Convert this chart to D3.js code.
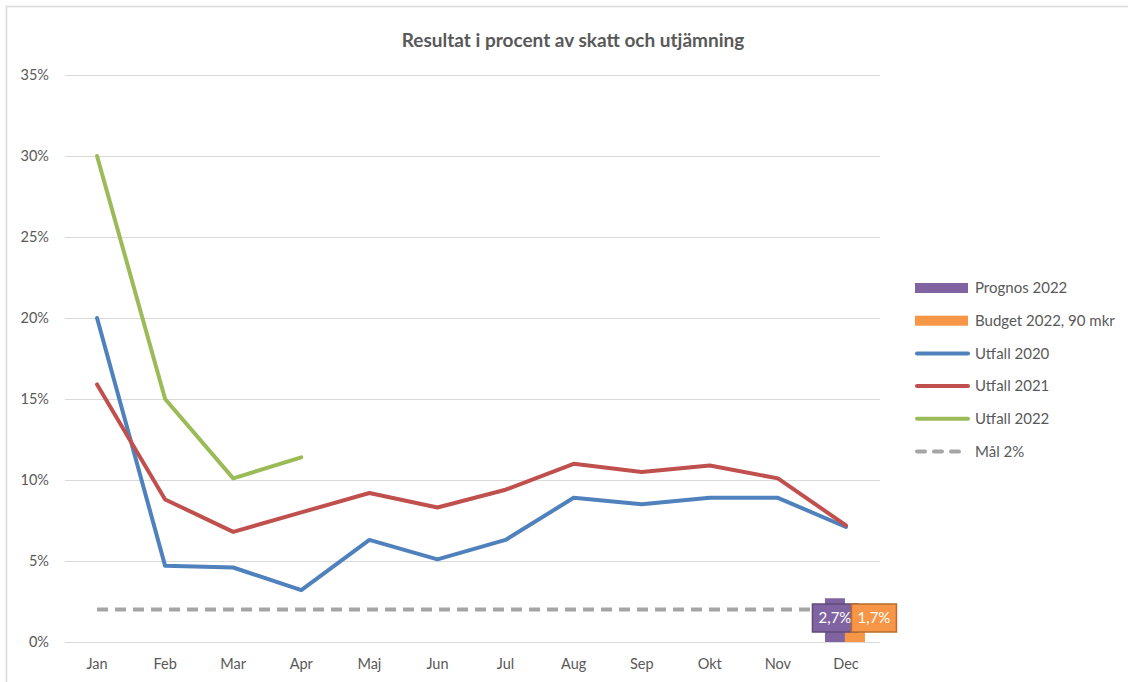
<!DOCTYPE html>
<html>
<head>
<meta charset="utf-8">
<script src="https://cdn.jsdelivr.net/npm/d3@7"></script>
<style>
body{margin:0;background:#fff;}
text{font-family:Lato,"Open Sans",sans-serif;}
</style>
</head>
<body>
<div id="chart"></div>
<script>
var months = ["Jan","Feb","Mar","Apr","Maj","Jun","Jul","Aug","Sep","Okt","Nov","Dec"];
var utfall2020 = [20,4.7,4.6,3.2,6.3,5.1,6.3,8.9,8.5,8.9,8.9,7.1];
var utfall2021 = [15.9,8.8,6.8,8.0,9.2,8.3,9.4,11.0,10.5,10.9,10.1,7.2];
var utfall2022 = [30,15,10.1,11.4];
var mal = [2,2,2,2,2,2,2,2,2,2,2,2];
var barNames = ["Prognos 2022","Budget 2022, 90 mkr"];
var barValues = [2.7,1.7];
var barLabels = ["2,7%","1,7%"];
var yTicks = [0,5,10,15,20,25,30,35];

var W = 1128, H = 682;
var margin = {l:63,r:248,t:75,b:40};

var svg = d3.select("#chart").append("svg")
	.attr("width",W).attr("height",H);

// chart frame
svg.append("path")
	.attr("d","M6.5,"+H+"V6.5H"+W)
	.style("fill","none").style("stroke","#d9d9d9").style("stroke-width","1.5px");

var X = d3.scaleBand().domain(months).range([margin.l, W-margin.r]);
var Y = d3.scaleLinear().domain([0,35]).range([H-margin.b, margin.t]);
var cx = function(m){ return X(m)+X.bandwidth()/2; };

svg.append("text")
	.attr("x",573).attr("y",47)
	.attr("text-anchor","middle")
	.style("font-size","19px").style("font-weight","bold").style("fill","#595959")
	.text("Resultat i procent av skatt och utjämning");

// gridlines
svg.selectAll(".grid").data(yTicks).enter().append("line")
	.attr("class","grid")
	.attr("x1",margin.l+2).attr("x2",W-margin.r)
	.attr("y1",function(d){return Math.round(Y(d))+0.5})
	.attr("y2",function(d){return Math.round(Y(d))+0.5})
	.style("stroke","#d9d9d9").style("stroke-width","1px");

var yAxis = svg.append("g")
	.attr("transform","translate("+(margin.l-11)+",0)")
	.call(d3.axisLeft(Y).tickValues(yTicks).tickSize(0).tickFormat(function(d){return d+"%"}));
yAxis.select(".domain").remove();
yAxis.selectAll("text").style("font-size","14.5px").style("fill","#595959").style("font-family","Lato,sans-serif");

var xAxis = svg.append("g")
	.attr("transform","translate(0,"+(H-margin.b+14)+")")
	.call(d3.axisBottom(X).tickSize(0));
xAxis.select(".domain").remove();
xAxis.selectAll("text").style("font-size","14.5px").style("fill","#595959").style("font-family","Lato,sans-serif");

// bars at Dec
var B = d3.scaleBand().domain(barNames).range([X("Dec")+X.bandwidth()/2-21, X("Dec")+X.bandwidth()/2+19]);
var barColors = ["#8064a2","#f79646"];
var barStroke = ["#5f4a7a","#b66d2f"];
svg.selectAll(".bar").data(barValues).enter().append("rect")
	.attr("class","bar")
	.attr("x",function(d,i){return B(barNames[i])})
	.attr("width",B.bandwidth())
	.attr("y",function(d){return Y(d)})
	.attr("height",function(d){return Y(0)-Y(d)})
	.style("fill",function(d,i){return barColors[i]});

var line = d3.line().x(function(d,i){return cx(months[i])}).y(function(d){return Y(d)});

svg.append("path").datum(mal).attr("d",line)
	.style("fill","none").style("stroke","#a5a5a5").style("stroke-width","4px")
	.style("stroke-dasharray","11,7");

var series = [
	{v:utfall2020, c:"#4f81bd"},
	{v:utfall2021, c:"#c0504d"},
	{v:utfall2022, c:"#9bbb59"}
];
svg.selectAll(".series").data(series).enter().append("path")
	.attr("class","series")
	.attr("d",function(d){return line(d.v)})
	.style("fill","none")
	.style("stroke",function(d){return d.c})
	.style("stroke-width","4px")
	.style("stroke-linejoin","round")
	.style("stroke-linecap","round");

// data labels
var lab = svg.selectAll(".lab").data(barValues).enter().append("g")
	.attr("class","lab")
	.attr("transform",function(d,i){
		var x = B(barNames[i]) + B.bandwidth()/2 + (i==0 ? 0 : 19);
		return "translate("+x+","+(Y(0)-24)+")";
	});
lab.append("rect")
	.attr("x",-22.5).attr("y",-14).attr("width",45).attr("height",28)
	.style("fill",function(d,i){return barColors[i]})
	.style("stroke",function(d,i){return barStroke[i]})
	.style("stroke-width","1.5px");
lab.append("text")
	.attr("text-anchor","middle").attr("dy","0.35em")
	.style("font-size","15px").style("fill","#fff")
	.text(function(d,i){return barLabels[i]});

// legend
var legend = [
	{n:"Prognos 2022", c:"#8064a2", type:"bar"},
	{n:"Budget 2022, 90 mkr", c:"#f79646", type:"bar"},
	{n:"Utfall 2020", c:"#4f81bd", type:"line"},
	{n:"Utfall 2021", c:"#c0504d", type:"line"},
	{n:"Utfall 2022", c:"#9bbb59", type:"line"},
	{n:"Mål 2%", c:"#a5a5a5", type:"dash"}
];
var lg = svg.selectAll(".leg").data(legend).enter().append("g")
	.attr("class","leg")
	.attr("transform",function(d,i){return "translate(915,"+(288+i*32.7)+")"});
lg.filter(function(d){return d.type=="bar"}).append("rect")
	.attr("x",0).attr("y",-5).attr("width",53).attr("height",10)
	.style("fill",function(d){return d.c});
lg.filter(function(d){return d.type!="bar"}).append("line")
	.attr("x1",2).attr("x2",53).attr("y1",0).attr("y2",0)
	.style("stroke",function(d){return d.c})
	.style("stroke-width","4px")
	.style("stroke-linecap","round")
	.style("stroke-dasharray",function(d){return d.type=="dash" ? "8,9" : null});
lg.append("text")
	.attr("x",60).attr("dy","0.35em")
	.style("font-size","15px").style("fill","#595959")
	.text(function(d){return d.n});
</script>
</body>
</html>
